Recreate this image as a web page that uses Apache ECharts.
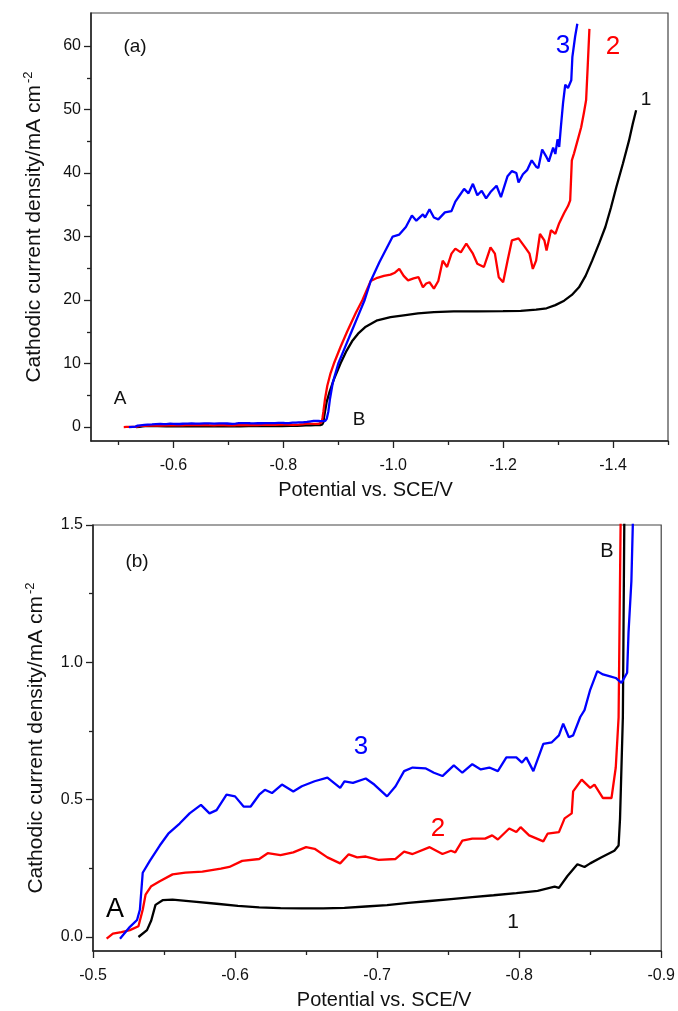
<!DOCTYPE html>
<html>
<head>
<meta charset="utf-8">
<script src="https://cdn.jsdelivr.net/npm/echarts@6/dist/echarts.min.js"></script>
<style>html,body{margin:0;padding:0;background:#fff;}#c{width:678px;height:1011px;}</style>
</head>
<body>
<div id="c"></div>
<script>
// Curve 1 (black): [potential V, current density mA cm-2]
const curve1 = [[-0.532,0.0],[-0.538,0.025],[-0.541,0.06],[-0.544,0.117],[-0.549,0.134],[-0.556,0.136],[-0.571,0.129],[-0.587,0.121],[-0.602,0.113],[-0.617,0.108],[-0.632,0.105],[-0.647,0.104],[-0.662,0.104],[-0.677,0.106],[-0.692,0.111],[-0.707,0.116],[-0.722,0.124],[-0.737,0.131],[-0.752,0.138],[-0.767,0.145],[-0.782,0.152],[-0.798,0.16],[-0.813,0.168],[-0.825,0.183],[-0.828,0.179],[-0.834,0.222],[-0.841,0.265],[-0.846,0.255],[-0.85,0.268],[-0.858,0.29],[-0.867,0.314],[-0.870,0.333],[-0.871,0.43],[-0.873,0.8],[-0.874,1.5],[-0.876,2.5],[-0.879,4],[-0.884,5.5],[-0.892,7.5],[-0.904,10],[-0.915,12],[-0.925,13.5],[-0.936,14.7],[-0.95,15.8],[-0.971,16.8],[-0.995,17.3],[-1.019,17.6],[-1.045,17.9],[-1.074,18.1],[-1.11,18.2],[-1.153,18.2],[-1.2,18.25],[-1.232,18.3],[-1.26,18.5],[-1.279,18.7],[-1.295,19.2],[-1.311,19.9],[-1.325,20.8],[-1.338,22],[-1.35,23.8],[-1.362,26.2],[-1.375,29],[-1.386,31.5],[-1.396,34.5],[-1.406,37.8],[-1.418,41.5],[-1.429,45.1],[-1.436,47.8],[-1.442,49.9]];
// Curve 2 (red)
const curve2 = [[-0.5096,-0.006],[-0.514,0.012],[-0.52,0.018],[-0.526,0.025],[-0.532,0.039],[-0.535,0.099],[-0.537,0.154],[-0.541,0.185],[-0.547,0.203],[-0.556,0.228],[-0.565,0.234],[-0.577,0.238],[-0.59,0.249],[-0.596,0.255],[-0.605,0.277],[-0.617,0.284],[-0.623,0.305],[-0.632,0.298],[-0.641,0.308],[-0.65,0.327],[-0.656,0.321],[-0.665,0.29],[-0.674,0.268],[-0.68,0.301],[-0.686,0.29],[-0.692,0.293],[-0.701,0.281],[-0.713,0.284],[-0.719,0.311],[-0.725,0.302],[-0.737,0.327],[-0.746,0.302],[-0.752,0.314],[-0.755,0.308],[-0.76,0.351],[-0.767,0.358],[-0.776,0.358],[-0.781,0.37],[-0.785,0.355],[-0.793,0.395],[-0.798,0.382],[-0.801,0.4],[-0.807,0.37],[-0.817,0.348],[-0.82,0.376],[-0.828,0.382],[-0.832,0.432],[-0.837,0.45],[-0.838,0.53],[-0.844,0.573],[-0.85,0.543],[-0.853,0.555],[-0.859,0.506],[-0.865,0.506],[-0.868,0.617],[-0.870,0.8],[-0.8714,1.5],[-0.873,2.5],[-0.876,4.5],[-0.88,6.5],[-0.886,8.5],[-0.892,10],[-0.904,12.6],[-0.916,15],[-0.932,18],[-0.944,20],[-0.959,23],[-0.971,23.5],[-0.983,23.8],[-0.995,24.0],[-1.003,24.3],[-1.011,24.9],[-1.019,23.8],[-1.027,23.1],[-1.037,23.4],[-1.046,23.6],[-1.054,22.0],[-1.06,22.6],[-1.066,22.8],[-1.074,21.8],[-1.082,23.0],[-1.09,26.2],[-1.098,25.2],[-1.106,27.3],[-1.113,28.1],[-1.123,27.5],[-1.133,28.9],[-1.145,27.3],[-1.153,25.7],[-1.165,25.2],[-1.172,27.0],[-1.177,28.3],[-1.185,27.3],[-1.192,23.6],[-1.2,22.8],[-1.208,26.2],[-1.216,29.4],[-1.228,29.7],[-1.24,28.3],[-1.248,27.3],[-1.254,24.9],[-1.26,26.2],[-1.267,30.4],[-1.275,29.4],[-1.279,27.8],[-1.287,31.0],[-1.295,30.4],[-1.302,32.1],[-1.311,33.7],[-1.318,34.8],[-1.322,35.7],[-1.325,42.0],[-1.329,43.1],[-1.336,45.3],[-1.342,47.2],[-1.347,49.5],[-1.351,51.5],[-1.354,57],[-1.357,62.7]];
// Curve 3 (blue)
const curve3 = [[-0.519,-0.006],[-0.526,0.037],[-0.531,0.062],[-0.533,0.099],[-0.535,0.234],[-0.54,0.277],[-0.547,0.333],[-0.553,0.376],[-0.561,0.413],[-0.568,0.45],[-0.576,0.481],[-0.582,0.45],[-0.587,0.462],[-0.594,0.518],[-0.6,0.512],[-0.606,0.475],[-0.611,0.475],[-0.617,0.518],[-0.621,0.536],[-0.626,0.524],[-0.633,0.555],[-0.641,0.53],[-0.647,0.549],[-0.656,0.567],[-0.665,0.58],[-0.674,0.543],[-0.677,0.567],[-0.683,0.561],[-0.692,0.577],[-0.698,0.555],[-0.707,0.512],[-0.713,0.549],[-0.719,0.604],[-0.725,0.617],[-0.734,0.614],[-0.74,0.598],[-0.746,0.586],[-0.754,0.625],[-0.76,0.598],[-0.767,0.629],[-0.773,0.61],[-0.779,0.617],[-0.785,0.604],[-0.791,0.654],[-0.798,0.654],[-0.802,0.635],[-0.805,0.654],[-0.81,0.604],[-0.817,0.703],[-0.823,0.709],[-0.828,0.734],[-0.831,0.777],[-0.835,0.727],[-0.838,0.734],[-0.843,0.801],[-0.846,0.826],[-0.85,0.9],[-0.855,0.968],[-0.859,0.956],[-0.864,0.949],[-0.868,0.943],[-0.872,0.925],[-0.876,0.962],[-0.877,1.11],[-0.879,1.295],[-0.880,1.5],[-0.882,2.5],[-0.885,4.5],[-0.89,7],[-0.9,10],[-0.912,12.5],[-0.924,15],[-0.936,17.5],[-0.948,20],[-0.959,23],[-0.975,26],[-0.987,28],[-0.999,30],[-1.011,30.3],[-1.023,31.5],[-1.034,33.3],[-1.042,32.5],[-1.054,33.5],[-1.058,33.0],[-1.066,34.3],[-1.074,33.0],[-1.082,32.7],[-1.094,33.8],[-1.106,34.0],[-1.113,35.5],[-1.121,36.5],[-1.129,37.5],[-1.137,36.8],[-1.145,38.3],[-1.153,36.5],[-1.161,37.2],[-1.169,36.0],[-1.177,37.0],[-1.188,38.0],[-1.196,36.2],[-1.208,39.5],[-1.216,40.3],[-1.224,40.0],[-1.228,38.5],[-1.236,39.8],[-1.244,40.5],[-1.252,42.0],[-1.26,41.0],[-1.264,40.8],[-1.271,43.7],[-1.279,42.5],[-1.283,41.8],[-1.291,44.0],[-1.295,43.0],[-1.299,45.3],[-1.302,44.1],[-1.305,47.2],[-1.309,51.0],[-1.313,53.9],[-1.318,53.4],[-1.324,54.6],[-1.326,58.3],[-1.331,61.5],[-1.335,63.5]];

// Axis ticks (major ones carry labels) and minor ticks
const xMajorA = [-0.6,-0.8,-1.0,-1.2,-1.4];
const xMinorA = [-0.5,-0.7,-0.9,-1.1,-1.3,-1.5];
const yMajorA = [0,10,20,30,40,50,60];
const yMinorA = [5,15,25,35,45,55];
const xMajorB = [-0.5,-0.6,-0.7,-0.8,-0.9];
const xMinorB = [-0.55,-0.65,-0.75,-0.85];
const yMajorB = [0,0.5,1.0,1.5];
const yMinorB = [0.25,0.75,1.25];

const xName = 'Potential vs. SCE/V';
const yName = 'Cathodic current density/mA cm{sup|-2}';

const FONT = 'Liberation Sans, Arial, sans-serif';
const colors = ['#000000', '#ff0000', '#0000ff'];

function xAxis(idx, min, max, ticks, pad) {
  return {
    type: 'value', gridIndex: idx, min: min, max: max, inverse: true,
    name: xName, nameLocation: 'middle', nameGap: 39,
    nameTextStyle: {fontSize: 20, fontFamily: FONT, color: '#111', padding: pad},
    axisLine: {show: true, onZero: false, lineStyle: {color: '#222', width: 1.5}},
    axisTick: {show: true, length: 7, inside: false, customValues: ticks, lineStyle: {color: '#222', width: 1.3}},
    axisLabel: {customValues: ticks, margin: 17, fontSize: 16, fontFamily: FONT, color: '#111',
      showMinLabel: true, showMaxLabel: true, formatter: v => v.toFixed(1)},
    splitLine: {show: false}
  };
}
function xMinor(idx, min, max, ticks) {
  return {
    type: 'value', gridIndex: idx, min: min, max: max, inverse: true, position: 'bottom',
    axisLine: {show: false, onZero: false},
    axisTick: {show: true, length: 4, inside: false, customValues: ticks, lineStyle: {color: '#222', width: 1.3}},
    axisLabel: {show: false}, splitLine: {show: false}
  };
}
function yAxis(idx, min, max, ticks, dec) {
  return {
    type: 'value', gridIndex: idx, min: min, max: max,
    name: yName, nameLocation: 'middle', nameGap: 45, nameRotate: 90,
    nameTextStyle: {fontSize: 21, fontFamily: FONT, color: '#111',
      rich: {sup: {fontSize: 13, fontFamily: FONT, color: '#111', verticalAlign: 'top', padding: [0, 0, 11, 2]}}},
    axisLine: {show: true, onZero: false, lineStyle: {color: '#222', width: 1.5}},
    axisTick: {show: true, length: 7, inside: false, customValues: ticks, lineStyle: {color: '#222', width: 1.3}},
    axisLabel: {customValues: ticks, margin: 10, fontSize: 16, fontFamily: FONT, color: '#111',
      showMinLabel: true, showMaxLabel: true, formatter: v => v.toFixed(dec)},
    splitLine: {show: false}
  };
}
function yMinor(idx, min, max, ticks) {
  return {
    type: 'value', gridIndex: idx, min: min, max: max, position: 'left',
    axisLine: {show: false, onZero: false},
    axisTick: {show: true, length: 4, inside: false, customValues: ticks, lineStyle: {color: '#222', width: 1.3}},
    axisLabel: {show: false}, splitLine: {show: false}
  };
}
function line(data, color, xi, yi) {
  return {type: 'line', data: data, xAxisIndex: xi, yAxisIndex: yi, showSymbol: false, symbol: 'none',
    clip: true, lineStyle: {color: color, width: 2.3}, itemStyle: {color: color}, animation: false, z: 3};
}
function txt(text, x, y, size, color) {
  return {type: 'text', x: x, y: y, z: 10,
    style: {text: text, fontSize: size, fontFamily: FONT, fill: color,
      align: 'center', verticalAlign: 'middle', textAlign: 'center', textVerticalAlign: 'middle'}};
}

const chart = echarts.init(document.getElementById('c'), null, {renderer: 'canvas'});
chart.setOption({
  animation: false,
  backgroundColor: '#fff',
  grid: [
    {left: 91, right: 10, top: 13, height: 428, show: true, borderColor: '#444', borderWidth: 1.2, backgroundColor: '#fff'},
    {left: 93, right: 12, top: 525, height: 427, show: true, borderColor: '#444', borderWidth: 1.2, backgroundColor: '#fff'}
  ],
  xAxis: [
    xAxis(0, -1.5, -0.45, xMajorA, [0, 28, 0, 0]),
    xAxis(1, -0.9, -0.5, xMajorB, [0, 0, 0, 14]),
    xMinor(0, -1.5, -0.45, xMinorA),
    xMinor(1, -0.9, -0.5, xMinorB)
  ],
  yAxis: [
    yAxis(0, -2.2, 65.2, yMajorA, 0),
    yAxis(1, -0.051, 1.5, yMajorB, 1),
    yMinor(0, -2.2, 65.2, yMinorA),
    yMinor(1, -0.051, 1.5, yMinorB)
  ],
  series: [
    line(curve1, colors[0], 0, 0),
    line(curve2, colors[1], 0, 0),
    line(curve3, colors[2], 0, 0),
    line(curve1, colors[0], 1, 1),
    line(curve2, colors[1], 1, 1),
    line(curve3, colors[2], 1, 1)
  ],
  graphic: [
    txt('(a)', 135, 47, 19, '#111'),
    txt('A', 120, 399, 19, '#111'),
    txt('B', 359, 420, 19, '#111'),
    txt('3', 563, 46, 26, '#0000ff'),
    txt('2', 613, 47, 26, '#ff0000'),
    txt('1', 646, 100, 19, '#111'),
    txt('(b)', 137, 562, 19, '#111'),
    txt('B', 607, 551, 20, '#111'),
    txt('3', 361, 747, 26, '#0000ff'),
    txt('2', 438, 829, 26, '#ff0000'),
    txt('1', 513, 922, 21, '#111'),
    txt('A', 115, 910, 27, '#000')
  ]
});
</script>
</body>
</html>
